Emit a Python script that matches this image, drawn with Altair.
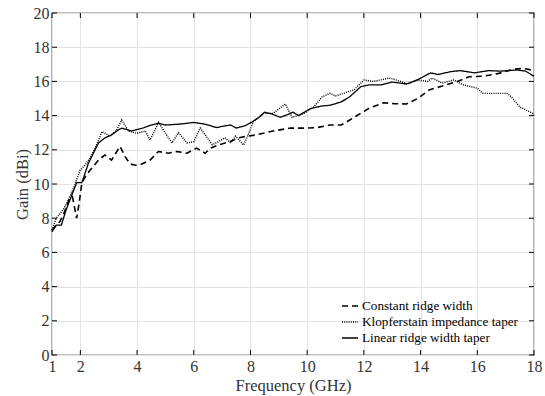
import altair as alt
import pandas as pd

series_names = ["Constant ridge width", "Klopferstain impedance taper", "Linear ridge width taper"]

f_const = [1.0, 1.15, 1.28, 1.45, 1.63, 1.72, 1.87, 1.95, 2.04, 2.1, 2.2, 2.34, 2.64, 2.87, 3.1, 3.4, 3.58, 3.75,
           3.95, 4.17, 4.46, 4.75, 5.1, 5.4, 5.76, 6.1, 6.4, 6.6, 6.9, 7.3, 7.6, 7.8, 8.2, 8.8, 9.4, 10.0, 10.35,
           10.8, 11.2, 11.5, 11.9, 12.2, 12.7, 13.05, 13.5, 13.9, 14.3, 14.9, 15.3, 15.7, 16.2, 16.76, 17.25,
           17.6, 17.9, 18.0]
g_const = [7.3, 7.6, 7.8, 8.4, 9.2, 9.26, 8.0, 8.8, 9.9, 10.2, 10.5, 10.8, 11.4, 11.7, 11.4, 12.2, 11.6, 11.17,
           11.1, 11.17, 11.4, 11.9, 11.8, 11.9, 11.8, 12.1, 11.8, 12.1, 12.3, 12.5, 12.7, 12.77, 12.87, 13.1,
           13.27, 13.27, 13.3, 13.45, 13.45, 13.74, 14.15, 14.44, 14.75, 14.7, 14.68, 15.0, 15.5, 15.8, 16.0,
           16.27, 16.3, 16.47, 16.7, 16.77, 16.67, 16.6]

f_klop = [1.0, 1.15, 1.4, 1.63, 1.8, 1.99, 2.16, 2.34, 2.58, 2.76, 2.98, 3.05, 3.28, 3.46, 3.7, 3.99, 4.29, 4.46,
          4.76, 4.93, 5.23, 5.46, 5.76, 6.0, 6.23, 6.65, 6.87, 7.1, 7.3, 7.47, 7.76, 7.94, 8.1, 8.47, 8.8, 9.23,
          9.47, 9.88, 10.23, 10.53, 10.8, 11.0, 11.35, 11.65, 12.0, 12.35, 12.9, 13.2, 13.55, 13.9, 14.25, 14.4,
          14.76, 15.17, 15.5, 16.0, 16.2, 17.06, 17.2, 17.5, 17.95, 18.0]
g_klop = [7.3, 8.0, 8.5, 9.26, 9.94, 10.8, 11.1, 11.5, 12.3, 13.06, 12.87, 12.8, 13.15, 13.74, 13.1, 12.96, 13.1,
          12.57, 13.6, 13.15, 12.4, 13.0, 12.4, 12.47, 13.27, 12.3, 12.47, 12.7, 12.4, 12.8, 12.28, 12.96, 13.64,
          14.13, 14.13, 14.68, 13.9, 14.13, 14.5, 15.1, 15.3, 15.15, 15.34, 15.5, 16.08, 16.0, 16.2, 16.05, 15.85,
          16.08, 16.0, 16.2, 15.9, 16.08, 15.8, 15.6, 15.3, 15.3, 15.1, 14.5, 14.13, 14.0]

f_lin = [1.0, 1.15, 1.33, 1.5, 1.7, 1.87, 2.05, 2.1, 2.28, 2.46, 2.64, 2.87, 3.1, 3.33, 3.46, 3.8, 4.2, 4.5, 4.75,
         5.0, 5.5, 6.0, 6.4, 6.8, 7.1, 7.3, 7.5, 7.8, 8.07, 8.3, 8.5, 8.75, 9.05, 9.3, 9.5, 9.7, 10.1, 10.5, 10.8,
         11.2, 11.5, 11.9, 12.2, 12.6, 13.0, 13.5, 13.9, 14.35, 14.6, 15.06, 15.4, 15.9, 16.4, 16.8, 17.4, 17.7,
         18.0]
g_lin = [7.2, 7.6, 7.6, 8.5, 9.36, 10.08, 10.08, 10.3, 11.2, 11.8, 12.4, 12.7, 12.87, 13.15, 13.27, 13.1, 13.27,
         13.45, 13.55, 13.45, 13.5, 13.6, 13.5, 13.3, 13.4, 13.45, 13.27, 13.4, 13.64, 13.9, 14.2, 14.1, 13.9,
         14.05, 14.2, 14.0, 14.4, 14.56, 14.6, 14.8, 15.1, 15.7, 15.8, 15.8, 15.96, 15.85, 16.1, 16.5, 16.4,
         16.57, 16.63, 16.5, 16.63, 16.6, 16.67, 16.6, 16.3]

x_ticks = [1, 2, 4, 6, 8, 10, 12, 14, 16, 18]
y_ticks = [0, 2, 4, 6, 8, 10, 12, 14, 16, 18, 20]

rows = []
for name, fs, gs in zip(series_names, [f_const, f_klop, f_lin], [g_const, g_klop, g_lin]):
    for i, (f, g) in enumerate(zip(fs, gs)):
        rows.append({"series": name, "freq": f, "gain": g, "order": i})
df = pd.DataFrame(rows)

W, H = 482, 342
FONT = "Liberation Serif"

xscale = alt.Scale(domain=[1, 18], nice=False, zero=False)
yscale = alt.Scale(domain=[0, 20], nice=False)
x_axis = alt.Axis(values=x_ticks, grid=True, ticks=False, domain=False, labelPadding=3,
                  titlePadding=3, labelFlush=False, labelOverlap=False)
y_axis = alt.Axis(values=y_ticks, grid=True, ticks=False, domain=False, labelPadding=3,
                  titlePadding=3, labelFlush=False, labelOverlap=False)
XT = "Frequency (GHz)"
YT = "Gain (dBi)"

lines = alt.Chart(df).mark_line(color="black", strokeCap="butt").encode(
    x=alt.X("freq:Q", scale=xscale, title=XT, axis=x_axis),
    y=alt.Y("gain:Q", scale=yscale, title=YT, axis=y_axis),
    strokeDash=alt.StrokeDash("series:N",
                              scale=alt.Scale(domain=series_names, range=[[6, 4], [1, 1.2], [1, 0]]),
                              legend=alt.Legend(title=None, orient="none", legendX=289, legendY=284,
                                                symbolType="stroke", symbolSize=256, symbolStrokeWidth=1.5,
                                                symbolStrokeColor="black", labelFont=FONT, labelFontSize=13.2,
                                                labelColor="black", rowPadding=-5, labelOffset=3)),
    strokeWidth=alt.StrokeWidth("series:N",
                                scale=alt.Scale(domain=series_names, range=[1.6, 1.3, 1.9]),
                                legend=None),
    order="order:Q",
)

xt = pd.DataFrame({"v": x_ticks})
yt = pd.DataFrame({"v": y_ticks})

tick_bottom = alt.Chart(xt).mark_rule(color="black", strokeWidth=1).encode(
    x=alt.X("v:Q", scale=xscale, title=XT, axis=x_axis), y=alt.value(H), y2=alt.value(H - 5))
tick_top = alt.Chart(xt).mark_rule(color="black", strokeWidth=1).encode(
    x=alt.X("v:Q", scale=xscale, title=XT, axis=x_axis), y=alt.value(0), y2=alt.value(5))
tick_left = alt.Chart(yt).mark_rule(color="black", strokeWidth=1).encode(
    y=alt.Y("v:Q", scale=yscale, title=YT, axis=y_axis), x=alt.value(0), x2=alt.value(5))
tick_right = alt.Chart(yt).mark_rule(color="black", strokeWidth=1).encode(
    y=alt.Y("v:Q", scale=yscale, title=YT, axis=y_axis), x=alt.value(W), x2=alt.value(W - 5))

chart = alt.layer(lines, tick_bottom, tick_top, tick_left, tick_right).properties(
    width=W, height=H,
    autosize=alt.AutoSizeParams(type="none"),
    padding={"left": 52, "top": 13, "right": 11, "bottom": 41},
    background="white",
).configure_view(
    stroke="black", strokeWidth=1.2
).configure_axis(
    labelFont=FONT, labelFontSize=16, labelColor="#333333", labelOverlap=False,
    titleFont=FONT, titleFontSize=16.5, titleFontWeight="normal", titleColor="#333333",
    gridColor="#e3e3e3", gridWidth=1,
)

chart.save("out.html", embed_options={"renderer": "svg", "actions": False})
